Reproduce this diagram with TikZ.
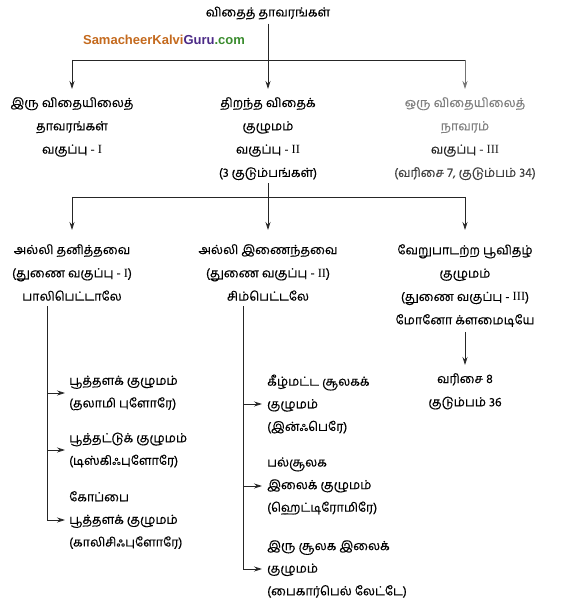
\documentclass[tikz,border=0pt]{standalone}
\usepackage{fontspec}
\newfontfamily\ta[Script=Tamil, FakeBold=0.4]{Hind Madurai}
\newfontfamily\rom{Liberation Serif}
\newfontfamily\wm{Liberation Sans}
\usetikzlibrary{arrows.meta}
\definecolor{wmorange}{HTML}{C46A1E}
\definecolor{wmpurple}{HTML}{4B2A86}
\definecolor{wmgreen}{HTML}{3A8C2E}
\begin{document}
\begin{tikzpicture}[x=1pt,y=-1pt,
  txt/.style={font=\ta\fontsize{12.5}{23.3}\selectfont, align=center, inner sep=0pt, anchor=north},
  ltxt/.style={font=\ta\fontsize{12.5}{22.6}\selectfont, align=left, inner sep=0pt, anchor=west},
  conn/.style={line width=0.8pt, draw=black!85},
  arr/.style={conn, -{Stealth[length=8pt,width=5pt]}}]
\useasboundingbox (0,0) rectangle (570,601);

% top
\node[txt, anchor=center] (title) at (268,13) {விதைத் தாவரங்கள்};
\node[inner sep=0pt, font=\wm\bfseries\fontsize{13}{15}\selectfont] (wm) at (164,40)
  {\textcolor{wmorange}{SamacheerKalvi}\textcolor{wmpurple}{Guru}\textcolor{wmgreen}{.com}};

% level 2
\node[txt] (di) at (72,97) {இரு விதையிலைத்\\தாவரங்கள்\\வகுப்பு - {\rom I}};
\node[txt] (gy) at (268,97) {திறந்த விதைக்\\குழுமம்\\வகுப்பு - {\rom II}\\(3 குடும்பங்கள்)};
\node[txt] (mo) at (465,97) {{\color{black!50}ஒரு விதையிலைத்}\\{\color{black!50}நாவரம்}\\{\color{black!85}வகுப்பு - {\rom III}}\\{\color{black!75}(வரிசை 7, குடும்பம் 34)}};

\coordinate (j1) at (268,60);
\draw[conn, shorten <=4pt] (title) -- (j1);
\draw[conn] (j1 -| di) -- (j1 -| mo);
\draw[arr, shorten >=8pt] (j1 -| di) -- (di.north);
\draw[arr, shorten >=8pt] (j1) -- (gy.north);
\draw[arr, draw=black!55, shorten >=8pt] (j1 -| mo) -- (mo.north);

% level 3
\node[txt] (pp) at (72,244) {அல்லி தனித்தவை\\(துணை வகுப்பு - {\rom I})\\பாலிபெட்டாலே};
\node[txt] (sp) at (268,244) {அல்லி இணைந்தவை\\(துணை வகுப்பு - {\rom II})\\சிம்பெட்டலே};
\node[txt] (mc) at (465,244) {வேறுபாடற்ற பூவிதழ்\\குழுமம்\\(துணை வகுப்பு - {\rom III})\\மோனோ க்ளமைடியே};

\coordinate (j2) at (268,197);
\draw[conn, shorten <=3pt] (gy.south) -- (j2);
\draw[conn] (j2 -| pp) -- (j2 -| mc);
\draw[arr, shorten >=14pt] (j2 -| pp) -- (pp.north);
\draw[arr, shorten >=14pt] (j2) -- (sp.north);
\draw[arr, shorten >=14pt] (j2 -| mc) -- (mc.north);

% right branch
\node[txt] (o8) at (465,373) {வரிசை 8\\குடும்பம் 36};
\draw[arr, shorten <=5pt, shorten >=8pt] (mc.south) -- (o8.north);

% left branch
\coordinate (vl) at (47,306);
\node[ltxt] (t1) at (69,393) {பூத்தளக் குழுமம்\\(தலாமி புளோரே)};
\node[ltxt] (t2) at (69,450) {பூத்தட்டுக் குழுமம்\\(டிஸ்கிஃபுளோரே)};
\node[ltxt] (t3) at (69,520) {கோப்பை\\பூத்தளக் குழுமம்\\(காலிசிஃபுளோரே)};
\draw[arr, shorten >=4pt] (vl) |- (t3.west);
\draw[arr, shorten >=4pt] (vl |- t1.west) -- (t1.west);
\draw[arr, shorten >=4pt] (vl |- t2.west) -- (t2.west);

% middle branch
\coordinate (vm) at (243,306);
\node[ltxt] (m1) at (267,404) {கீழ்மட்ட சூலகக்\\குழுமம்\\(இன்ஃபெரே)};
\node[ltxt] (m2) at (267,486) {பல்சூலக\\இலைக் குழுமம்\\(ஹெட்டிரோமிரே)};
\node[ltxt] (m3) at (267,569) {இரு சூலக இலைக்\\குழுமம்\\(பைகார்பெல் லேட்டே)};
\draw[arr, shorten >=5pt] (vm) |- (m3.west);
\draw[arr, shorten >=5pt] (vm |- m1.west) -- (m1.west);
\draw[arr, shorten >=5pt] (vm |- m2.west) -- (m2.west);
\end{tikzpicture}
\end{document}
